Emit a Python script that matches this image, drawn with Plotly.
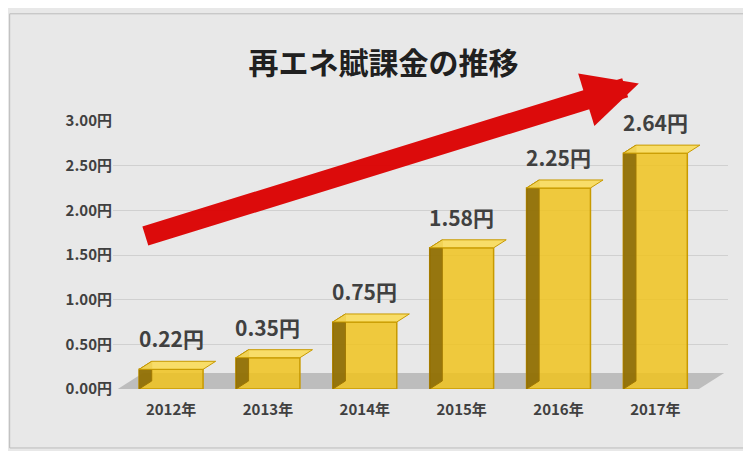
import plotly.graph_objects as go

years = ["2012年", "2013年", "2014年", "2015年", "2016年", "2017年"]
values = [0.22, 0.35, 0.75, 1.58, 2.25, 2.64]
tick_vals = [0, 0.5, 1.0, 1.5, 2.0, 2.5, 3.0]
tick_text = ["0.00円", "0.50円", "1.00円", "1.50円", "2.00円", "2.50円", "3.00円"]

xs = list(range(len(years)))
dx, dy = 0.13, 0.09   # depth offset for fake 3D
hw = 0.33

fig = go.Figure()
fig.add_trace(go.Bar(x=xs, y=values, width=2 * hw, marker=dict(color="rgba(240,195,30,0.85)",
                     line=dict(color="#c89a00", width=1.5)), hoverinfo="skip"))

shapes = []
# floor
shapes.append(dict(type="path", layer="below", fillcolor="#bdbdbd", line=dict(width=0),
                   path=f"M -0.55 0 L 5.45 0 L {5.45 + 2*dx} {2*dy} L {-0.55 + 2*dx} {2*dy} Z"))
for x, v in zip(xs, values):
    l, r = x - hw, x + hw
    # side face (left, dark)
    shapes.append(dict(type="path", fillcolor="rgba(120,90,0,0.75)", line=dict(color="#a07800", width=1),
                       path=f"M {l} 0 L {l+dx} {dy} L {l+dx} {v+dy} L {l} {v} Z"))
    # top face
    shapes.append(dict(type="path", fillcolor="rgba(250,220,90,0.9)", line=dict(color="#c89a00", width=1),
                       path=f"M {l} {v} L {l+dx} {v+dy} L {r+dx} {v+dy} L {r} {v} Z"))
# border
shapes.append(dict(type="rect", xref="paper", yref="paper", x0=-0.168, x1=1.048, y0=-0.22, y1=1.40,
                   line=dict(color="#bbbbbb", width=1)))
fig.update_layout(shapes=shapes)

for x, v in zip(xs, values):
    fig.add_annotation(x=x, y=v + dy, text=f"<b>{v:.2f}円</b>", showarrow=False, yanchor="bottom",
                       yshift=6, font=dict(size=21, color="#404040"))

# red arrow
fig.add_annotation(xref="paper", yref="paper", x=0.855, y=1.14, ax=-495, ay=153,
                   showarrow=True, arrowhead=2, arrowsize=0.55, arrowwidth=20,
                   arrowcolor="rgba(220,0,0,0.95)", text="")

fig.update_xaxes(tickvals=xs, ticktext=[f"<b>{y}</b>" for y in years], range=[-0.6, 5.75],
                 showgrid=False, zeroline=False, tickfont=dict(size=15, color="#404040"), ticklabelstandoff=10)
fig.update_yaxes(tickvals=tick_vals, ticktext=[f"<b>{t}</b>" for t in tick_text], range=[0, 3.0],
                 gridcolor="#d0d0d0", zeroline=False, tickfont=dict(size=15, color="#404040"))

fig.update_layout(
    width=751, height=451,
    title=dict(text="<b>再エネ賦課金の推移</b>", x=0.5, xanchor="center", y=0.9,
               font=dict(size=30, color="#202020", family="Noto Sans CJK JP")),
    font=dict(family="Noto Sans CJK JP"),
    paper_bgcolor="#e8e8e8", plot_bgcolor="rgba(0,0,0,0)",
    margin=dict(l=105, r=31, t=113, b=70),
    showlegend=False, bargap=0.3,
)

fig.write_html("out.html")
